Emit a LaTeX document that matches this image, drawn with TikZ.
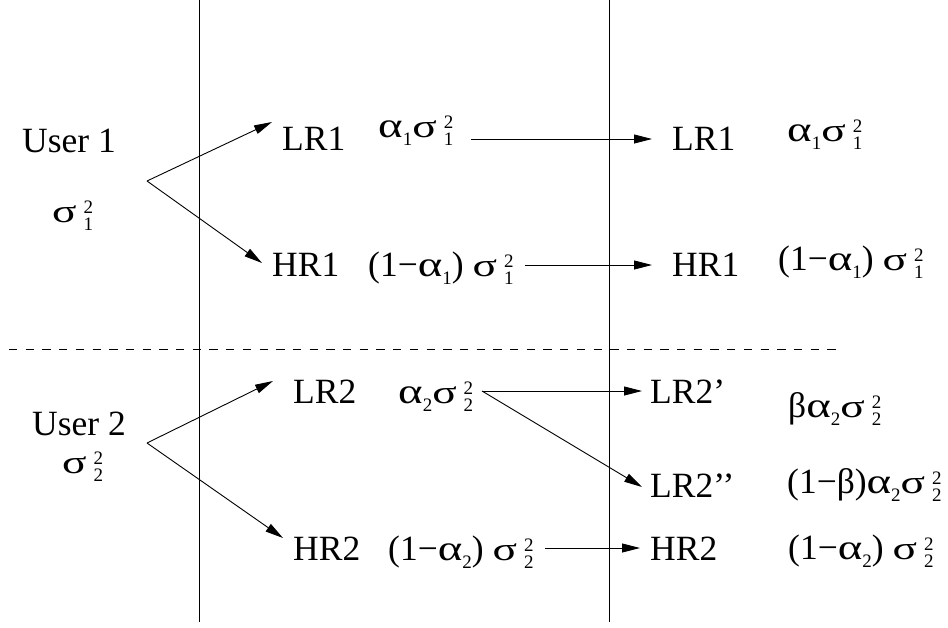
\documentclass[tikz,border=0pt]{standalone}
\usepackage{fontspec}
\usepackage{graphicx}
\setmainfont{Liberation Serif}
\usetikzlibrary{arrows.meta}
\newcommand\scr{\fontsize{19}{19}\selectfont}
\newcommand\myal{\scalebox{1.32}[1.0]{α}}
\newcommand\mysig{\scalebox{1.28}[0.92]{σ}}
\newcommand\sbb[1]{{\scr\raisebox{-8pt}{#1}}}
\newcommand\stk[2]{\hspace{7pt}{\scr\rlap{\raisebox{9pt}{#1}}\raisebox{-8pt}{#2}}}
\begin{document}
\begin{tikzpicture}[x=1pt,y=-1pt,
  lbl/.style={anchor=base west,inner sep=0pt,font=\fontsize{35.5}{40}\selectfont},
  arr/.style={line width=0.9pt,-{Triangle[length=18pt,width=9pt]}},
  sep/.style={line width=0.9pt},
  dsep/.style={line width=0.9pt,dash pattern=on 8.3pt off 8.4pt}]
\useasboundingbox (0,0) rectangle (948,627);
% separators
\coordinate (v1t) at (199,0); \coordinate (v1b) at (199,622);
\coordinate (v2t) at (609,0); \coordinate (v2b) at (609,622);
\coordinate (hl) at (9,349); \coordinate (hr) at (842,349);
\draw[sep] (v1t) -- (v1b);
\draw[sep] (v2t) -- (v2b);
\draw[dsep] (hl) -- (hr);
% user 1
\node[lbl] (user1) at (22,152) {User 1};
\node[lbl] (s1) at (52,222) {\mysig\stk{2}{1}};
\node[lbl] (lr1a) at (282,150) {LR1};
\node[lbl] (lr1av) at (378,137) {\myal\sbb{1}\mysig\stk{2}{1}};
\node[lbl] (lr1b) at (672,150) {LR1};
\node[lbl] (lr1bv) at (787,141) {\myal\sbb{1}\mysig\stk{2}{1}};
\node[lbl] (hr1a) at (272,276) {HR1};
\node[lbl] (hr1av) at (368,276) {(1−\myal\sbb{1}) \mysig\stk{2}{1}};
\node[lbl] (hr1b) at (672,276) {HR1};
\node[lbl] (hr1bv) at (778,270) {(1−\myal\sbb{1}) \mysig\stk{2}{1}};
% user 2
\node[lbl] (user2) at (32,435) {User 2};
\node[lbl] (s2) at (62,473) {\mysig\stk{2}{2}};
\node[lbl] (lr2a) at (293,403) {LR2};
\node[lbl] (lr2av) at (398,403) {\myal\sbb{2}\mysig\stk{2}{2}};
\node[lbl] (lr2p) at (650,403) {LR2’};
\node[lbl] (lr2pv) at (788,417) {β\myal\sbb{2}\mysig\stk{2}{2}};
\node[lbl] (lr2pp) at (650,497) {LR2’’};
\node[lbl] (lr2ppv) at (787,493) {(1−β)\myal\sbb{2}\mysig\stk{2}{2}};
\node[lbl] (hr2a) at (293,560) {HR2};
\node[lbl] (hr2av) at (388,560) {(1−\myal\sbb{2}) \mysig\stk{2}{2}};
\node[lbl] (hr2b) at (650,560) {HR2};
\node[lbl] (hr2bv) at (788,559) {(1−\myal\sbb{2}) \mysig\stk{2}{2}};
% connector points
\coordinate (u1) at (147,181);
\coordinate (t-lr1a) at (272,122);
\coordinate (t-hr1a) at (262,263);
\coordinate (f-lr1) at (471,139);
\coordinate (t-lr1b) at (652,139);
\coordinate (f-hr1) at (525,265);
\coordinate (t-hr1b) at (652,265);
\coordinate (u2) at (147,443);
\coordinate (t-lr2a) at (273,381);
\coordinate (t-hr2a) at (283,538);
\coordinate (sp) at (482,391);
\coordinate (t-lr2p) at (642,391);
\coordinate (t-lr2pp) at (642,487);
\coordinate (f-hr2) at (545,548);
\coordinate (t-hr2b) at (640,548);
% arrows
\draw[arr] (u1) -- (t-lr1a);
\draw[arr] (u1) -- (t-hr1a);
\draw[arr] (f-lr1) -- (t-lr1b);
\draw[arr] (f-hr1) -- (t-hr1b);
\draw[arr] (u2) -- (t-lr2a);
\draw[arr] (u2) -- (t-hr2a);
\draw[arr] (sp) -- (t-lr2p);
\draw[arr] (sp) -- (t-lr2pp);
\draw[arr] (f-hr2) -- (t-hr2b);
\end{tikzpicture}
\end{document}
